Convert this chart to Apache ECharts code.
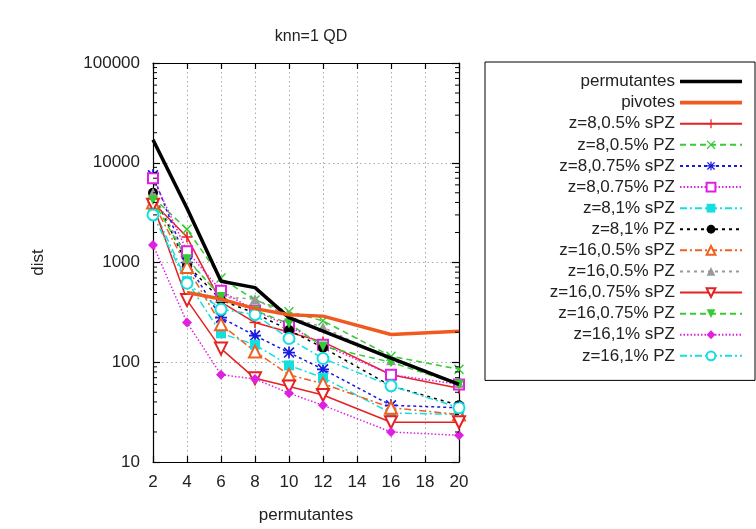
<!DOCTYPE html>
<html>
<head>
<meta charset="utf-8">
<script src="https://cdn.jsdelivr.net/npm/echarts@6/dist/echarts.min.js"></script>
<style>
  html, body { margin: 0; padding: 0; background: #fff; }
  #chart { width: 756px; height: 529px; }
</style>
</head>
<body>
<div id="chart"></div>
<script>
// Number of permutants on the x axis
const permutantes = [2, 4, 6, 8, 10, 12, 16, 20];
const pivotesX = [4, 6, 8, 10, 12, 16, 20];

// Distance evaluations per configuration
const permutantesDist = [17000, 3500, 650, 560, 280, 205, 110, 60];
const pivotesDist = [500, 430, 345, 300, 290, 190, 205];
const z8_05_sPZ = [4000, 1800, 400, 250, 200, 160, 75, 55];
const z8_05_PZ = [4500, 2150, 700, 420, 320, 260, 115, 85];
const z8_075_sPZ = [7500, 1000, 280, 185, 125, 85, 37, 35];
const z8_075_PZ = [7000, 1300, 520, 330, 230, 150, 75, 60];
const z8_1_sPZ = [3500, 650, 195, 150, 93, 70, 31, 30];
const z8_1_PZ = [5000, 950, 420, 310, 210, 140, 58, 37];
const z16_05_sPZ = [4000, 900, 240, 128, 75, 61, 35, 30];
const z16_05_PZ = [5000, 1100, 450, 430, 285, 225, 105, 62];
const z16_075_sPZ = [3800, 420, 137, 69, 57, 47, 25, 25];
const z16_075_PZ = [4200, 1080, 450, 330, 244, 144, 100, 60];
const z16_1_sPZ = [1500, 250, 75, 68, 49, 37, 20, 18.5];
const z16_1_PZ = [3000, 620, 340, 300, 173, 109, 58, 35];

// Log-axis minor tick values (2..9 per decade)
const minorTickValues = [];
[10, 100, 1000, 10000].forEach(d => { for (let k = 2; k <= 9; k++) minorTickValues.push(k * d); });

const FONT = 'Liberation Sans, Arial, sans-serif';
const TXT = '#222';

const plus = 'path://M4.3,0h1.4v10h-1.4zM0,4.3h10v1.4h-10z';
const cross = 'path://M1,0L10,9L9,10L0,1zM9,0L10,1L1,10L0,9z';
const star = 'path://M4.3,0h1.4v10h-1.4zM0,4.3h10v1.4h-10zM1.4,0.4L9.6,8.6L8.6,9.6L0.4,1.4zM8.6,0.4L9.6,1.4L1.4,9.6L0.4,8.6z';
const thickBar = 'path://M0,0h62v3.6h-62z';

function pairs(xs, ys) { return xs.map((x, i) => [x, ys[i]]); }

function line(name, ys, color, dash, symbol, size, extra) {
  return Object.assign({
    name: name,
    type: 'line',
    data: pairs(permutantes, ys),
    symbol: symbol,
    symbolSize: size,
    showSymbol: true,
    lineStyle: { color: color, width: 1.5, type: dash },
    itemStyle: { color: color, borderWidth: 1.6 },
    emphasis: { disabled: true },
    animation: false,
    z: 3
  }, extra || {});
}

// minor tick marks drawn inward on both vertical sides of the frame
const minorTickSeries = {
  name: 'minorTicks', type: 'custom', silent: true, animation: false, z: 6, clip: false,
  xAxisIndex: 0, yAxisIndex: 0,
  dimensions: ['x', 'y'],
  encode: { x: 'x', y: 'y' },
  data: minorTickValues.map(v => [2, v]),
  renderItem: function (params, api) {
    const v = api.value(1);
    const l = api.coord([2, v]);
    const r = api.coord([20, v]);
    return {
      type: 'path',
      shape: {
        pathData: 'M' + l[0] + ' ' + l[1] + 'L' + (l[0] + 4) + ' ' + l[1] +
                  'M' + (r[0] - 4) + ' ' + r[1] + 'L' + r[0] + ' ' + r[1]
      },
      style: { stroke: '#000', lineWidth: 1, fill: null }
    };
  }
};

const series = [
  {
    name: 'permutantes', type: 'line', data: pairs(permutantes, permutantesDist),
    symbol: 'none', lineStyle: { color: '#000', width: 3.5 }, itemStyle: { color: '#000' },
    animation: false, z: 4
  },
  {
    name: 'pivotes', type: 'line', data: pairs(pivotesX, pivotesDist),
    symbol: 'none', lineStyle: { color: '#f05a1e', width: 3.5 }, itemStyle: { color: '#f05a1e' },
    animation: false, z: 4
  },
  line('z=8,0.5% sPZ', z8_05_sPZ, '#e52222', 'solid', plus, 11),
  line('z=8,0.5% PZ', z8_05_PZ, '#33cc33', [6, 4], cross, 10),
  line('z=8,0.75% sPZ', z8_075_sPZ, '#1a1ae0', [3, 3], star, 12),
  line('z=8,0.75% PZ', z8_075_PZ, '#e020e0', [1.5, 2], 'emptyRect', 10),
  line('z=8,1% sPZ', z8_1_sPZ, '#14dede', [7, 3, 2, 3], 'rect', 10),
  line('z=8,1% PZ', z8_1_PZ, '#000000', [3, 4], 'circle', 10),
  line('z=16,0.5% sPZ', z16_05_sPZ, '#f06020', [7, 3, 2, 3], 'emptyTriangle', 12),
  line('z=16,0.5% PZ', z16_05_PZ, '#999999', [3, 4], 'triangle', 10),
  line('z=16,0.75% sPZ', z16_075_sPZ, '#e52222', 'solid', 'emptyTriangle', 12, { symbolRotate: 180 }),
  line('z=16,0.75% PZ', z16_075_PZ, '#33cc33', [6, 4], 'triangle', 10, { symbolRotate: 180 }),
  line('z=16,1% sPZ', z16_1_sPZ, '#e020e0', [1.5, 2], 'diamond', 10),
  line('z=16,1% PZ', z16_1_PZ, '#14dede', [7, 3, 2, 3], 'emptyCircle', 11),
  minorTickSeries
];

const legendData = series.filter(s => s.type === 'line').map(s =>
  s.symbol === 'none' ? { name: s.name, icon: thickBar } : { name: s.name });

const chart = echarts.init(document.getElementById('chart'), null, { renderer: 'canvas' });
chart.setOption({
  backgroundColor: '#fff',
  animation: false,
  title: {
    text: 'knn=1 QD', left: 306, top: 24, textAlign: 'center',
    textStyle: { fontFamily: FONT, fontSize: 16, fontWeight: 'normal', color: TXT }
  },
  grid: { left: 153, right: 297, top: 63, bottom: 65, containLabel: false },
  legend: {
    data: legendData,
    orient: 'vertical', left: 485, top: 62, align: 'right',
    padding: [9, 12, 14, 8], itemGap: 0, itemWidth: 62, itemHeight: 11,
    borderColor: '#000', borderWidth: 1, backgroundColor: '#fff',
    selectedMode: false, symbolKeepAspect: true,
    textStyle: { fontFamily: FONT, fontSize: 17, color: TXT, width: 182, align: 'right', lineHeight: 21.1 }
  },
  xAxis: [
    {
      type: 'value', min: 2, max: 20, interval: 2, position: 'bottom',
      name: 'permutantes', nameLocation: 'middle', nameGap: 45,
      nameTextStyle: { fontFamily: FONT, fontSize: 17, color: TXT },
      axisLine: { show: true, onZero: false, lineStyle: { color: '#000', width: 1.2 } },
      axisTick: { show: true, inside: true, length: 6, lineStyle: { color: '#000', width: 1.2 } },
      axisLabel: { fontFamily: FONT, fontSize: 17, color: TXT, margin: 12 },
      splitLine: { show: true, lineStyle: { color: '#aaa', type: [1.5, 3], width: 1 } }
    },
    {
      type: 'value', min: 2, max: 20, interval: 2, position: 'top',
      axisLine: { show: true, onZero: false, lineStyle: { color: '#000', width: 1.2 } },
      axisTick: { show: true, inside: true, length: 6, lineStyle: { color: '#000', width: 1.2 } },
      axisLabel: { show: false }, splitLine: { show: false }
    }
  ],
  yAxis: [
    {
      type: 'log', logBase: 10, min: 10, max: 100000, position: 'left',
      name: 'dist', nameLocation: 'middle', nameGap: 106, nameRotate: 90,
      nameTextStyle: { fontFamily: FONT, fontSize: 17, color: TXT },
      axisLine: { show: true, onZero: false, lineStyle: { color: '#000', width: 1.2 } },
      axisTick: { show: true, inside: true, length: 7, lineStyle: { color: '#000', width: 1.2 } },
      axisLabel: { fontFamily: FONT, fontSize: 17, color: TXT, margin: 13, formatter: v => String(Math.round(v)) },
      splitLine: { show: true, lineStyle: { color: '#aaa', type: [1.5, 3], width: 1 } }
    },
    {
      type: 'log', logBase: 10, min: 10, max: 100000, position: 'right',
      axisLine: { show: true, onZero: false, lineStyle: { color: '#000', width: 1.2 } },
      axisTick: { show: true, inside: true, length: 7, lineStyle: { color: '#000', width: 1.2 } },
      axisLabel: { show: false }, splitLine: { show: false }
    }
  ],
  series: series
});
</script>
</body>
</html>
